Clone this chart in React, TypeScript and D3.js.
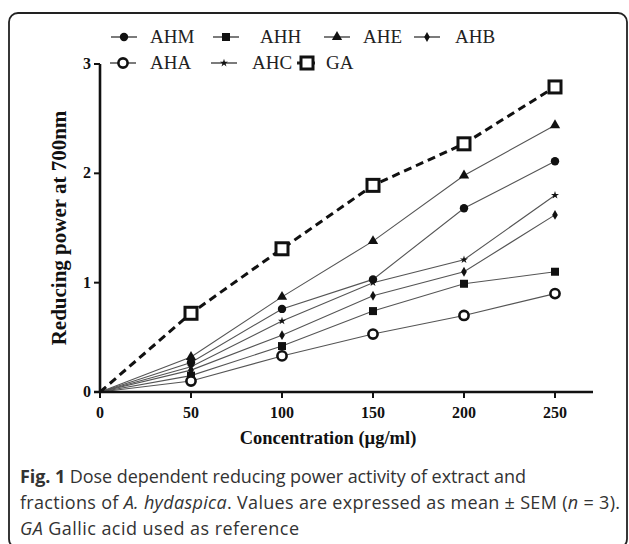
import * as d3 from "d3";
import React from "react";

const concentrations = [0, 50, 100, 150, 200, 250];
const ahm = [0, 0.27, 0.76, 1.03, 1.68, 2.11];
const ahh = [0, 0.15, 0.42, 0.74, 0.99, 1.1];
const ahe = [0, 0.32, 0.87, 1.38, 1.98, 2.44];
const ahb = [0, 0.2, 0.52, 0.88, 1.1, 1.62];
const aha = [0, 0.1, 0.33, 0.53, 0.7, 0.9];
const ahc = [0, 0.23, 0.65, 1.0, 1.21, 1.8];
const ga = [0, 0.72, 1.31, 1.89, 2.27, 2.79];
const yTicks = [0, 1, 2, 3];

type Kind = "circle" | "square" | "triangle" | "diamond" | "ocircle" | "star" | "osquare";

const series: { name: string; values: number[]; kind: Kind }[] = [
  { name: "AHM", values: ahm, kind: "circle" },
  { name: "AHH", values: ahh, kind: "square" },
  { name: "AHE", values: ahe, kind: "triangle" },
  { name: "AHB", values: ahb, kind: "diamond" },
  { name: "AHA", values: aha, kind: "ocircle" },
  { name: "AHC", values: ahc, kind: "star" },
  { name: "GA", values: ga, kind: "osquare" },
];

// legend slots: row, marker x, label x
const legendPos = [
  [0, 124, 150],
  [0, 226, 260],
  [0, 337, 363],
  [0, 427, 455],
  [1, 123, 150],
  [1, 224, 252],
  [1, 307, 326],
];

const serif = "'Liberation Serif', 'Times New Roman', serif";
const sans = "'Open Sans', 'Noto Sans', sans-serif";

const x = d3.scaleLinear().domain([0, 250]).range([100, 555]);
const y = d3.scaleLinear().domain([0, 3]).range([392, 64]);

function Marker({ kind, cx, cy }: { kind: Kind; cx: number; cy: number }) {
  const t = `translate(${cx},${cy})`;
  switch (kind) {
    case "circle":
      return <circle cx={cx} cy={cy} r={4.2} fill="#111" />;
    case "square":
      return <rect x={cx - 4} y={cy - 4} width={8} height={8} fill="#111" />;
    case "triangle":
      return <path transform={t} d={d3.symbol(d3.symbolTriangle, 46)() || ""} fill="#111" />;
    case "diamond":
      return <path transform={t} d={d3.symbol(d3.symbolDiamond, 28)() || ""} fill="#111" />;
    case "ocircle":
      return <circle cx={cx} cy={cy} r={4.6} fill="#fff" stroke="#111" strokeWidth={2.6} />;
    case "star":
      return <path transform={t} d={d3.symbol(d3.symbolStar, 20)() || ""} fill="#111" />;
    case "osquare":
      return (
        <rect x={cx - 6} y={cy - 6} width={12} height={12} fill="#fff" stroke="#111" strokeWidth={3} />
      );
  }
}

export default function App() {
  const line = d3
    .line<number>()
    .x((d, i) => x(concentrations[i]))
    .y((d) => y(d));

  return (
    <svg
      width={629}
      height={544}
      style={{ position: "absolute", left: 0, top: 0, background: "#fff" }}
    >
      <rect x={9} y={13} width={618} height={535} rx={9} fill="none" stroke="#222" strokeWidth={1.8} />

      {/* legend */}
      {series.map((s, i) => {
        const [row, mx, tx] = legendPos[i];
        const ly = row === 0 ? 37 : 63;
        const isGa = s.kind === "osquare";
        return (
          <g key={s.name}>
            <line
              x1={mx - (isGa ? 10 : 13)}
              x2={mx + (isGa ? 10 : 13)}
              y1={ly}
              y2={ly}
              stroke="#222"
              strokeWidth={isGa ? 3 : 1.2}
              strokeDasharray={isGa ? "4,3" : undefined}
            />
            <Marker kind={s.kind} cx={mx} cy={ly} />
            <text x={tx} y={ly + 6} fontFamily={serif} fontSize={19} fill="#222">
              {s.name}
            </text>
          </g>
        );
      })}

      {/* series lines */}
      {series.map((s) => (
        <path
          key={s.name}
          d={line(s.values) || ""}
          fill="none"
          stroke={s.kind === "osquare" ? "#111" : "#555"}
          strokeWidth={s.kind === "osquare" ? 3 : 1.1}
          strokeDasharray={s.kind === "osquare" ? "8,5" : undefined}
        />
      ))}
      {series.map((s) =>
        s.values.map((v, i) =>
          i === 0 ? null : (
            <Marker key={s.name + i} kind={s.kind} cx={x(concentrations[i])} cy={y(v)} />
          )
        )
      )}

      {/* axes */}
      <line x1={x(0)} x2={x(0)} y1={y(3)} y2={y(0)} stroke="#111" strokeWidth={2.6} />
      <line x1={x(0) - 6} x2={593} y1={y(0)} y2={y(0)} stroke="#111" strokeWidth={2.6} />
      {yTicks.map((t) => (
        <g key={t}>
          <line x1={x(0) - 6} x2={x(0)} y1={y(t)} y2={y(t)} stroke="#111" strokeWidth={2} />
          <text
            x={x(0) - 9}
            y={y(t) + 5}
            textAnchor="end"
            fontFamily={serif}
            fontWeight="bold"
            fontSize={16}
            fill="#111"
          >
            {t}
          </text>
        </g>
      ))}
      {concentrations.map((c) => (
        <g key={c}>
          <line x1={x(c)} x2={x(c)} y1={y(0)} y2={y(0) + 6} stroke="#111" strokeWidth={2} />
          <text
            x={x(c)}
            y={y(0) + 26}
            textAnchor="middle"
            fontFamily={serif}
            fontWeight="bold"
            fontSize={16}
            fill="#111"
          >
            {c}
          </text>
        </g>
      ))}
      <text
        transform={`translate(66,${(y(0) + y(3)) / 2}) rotate(-90)`}
        textAnchor="middle"
        fontFamily={serif}
        fontWeight="bold"
        fontSize={21}
        fill="#111"
      >
        Reducing power at 700nm
      </text>
      <text
        x={328}
        y={444}
        textAnchor="middle"
        fontFamily={serif}
        fontWeight="bold"
        fontSize={18.5}
        fill="#111"
      >
        Concentration (µg/ml)
      </text>

      {/* caption */}
      <g fontFamily={sans} fontSize={18} fill="#333">
        <text x={20} y={483} textLength={506} lengthAdjust="spacing">
          <tspan fontWeight="bold">Fig. 1</tspan> Dose dependent reducing power activity of extract and
        </text>
        <text x={20} y={509} textLength={600} lengthAdjust="spacing">
          fractions of <tspan fontStyle="italic">A. hydaspica</tspan>. Values are expressed as mean ± SEM (
          <tspan fontStyle="italic">n</tspan> = 3).
        </text>
        <text x={20} y={535} textLength={279} lengthAdjust="spacing">
          <tspan fontStyle="italic">GA</tspan> Gallic acid used as reference
        </text>
      </g>
    </svg>
  );
}
